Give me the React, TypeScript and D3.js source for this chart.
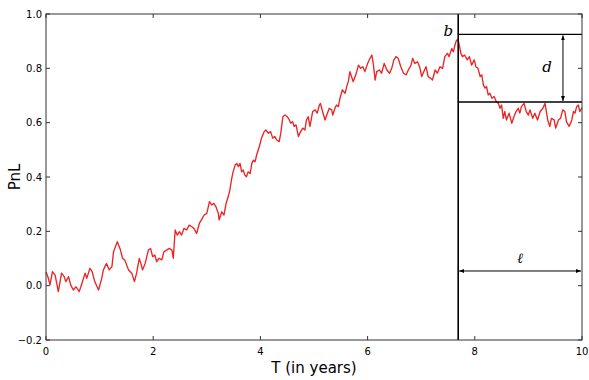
import React from 'react'
import * as d3 from 'd3'

// PnL path (time in years, PnL)
const times = [
  0, 0.04, 0.075, 0.12, 0.17, 0.23, 0.29, 0.34, 0.37, 0.42, 0.46, 0.51, 0.56, 0.62, 0.67, 0.73, 0.76, 0.82, 0.86, 0.91,
  0.98, 1.04, 1.07, 1.13, 1.18, 1.23, 1.26, 1.33, 1.38, 1.43, 1.47, 1.54, 1.6, 1.65, 1.69, 1.74, 1.77, 1.8, 1.85, 1.91,
  1.95, 1.99, 2.03, 2.065, 2.11, 2.16, 2.2, 2.25, 2.3, 2.35, 2.375, 2.41, 2.45, 2.49, 2.53, 2.575, 2.625, 2.67, 2.72, 2.76,
  2.81, 2.86, 2.9, 2.95, 3.0, 3.05, 3.09, 3.13, 3.17, 3.215, 3.23, 3.28, 3.32, 3.36, 3.4, 3.43, 3.46, 3.49, 3.53, 3.56,
  3.59, 3.62, 3.65, 3.68, 3.71, 3.74, 3.77, 3.81, 3.84, 3.87, 3.9, 3.93, 3.98, 4.02, 4.07, 4.1, 4.15, 4.19, 4.23, 4.27,
  4.3, 4.35, 4.38, 4.42, 4.46, 4.5, 4.54, 4.565, 4.6, 4.63, 4.665, 4.71, 4.75, 4.79, 4.83, 4.86, 4.89, 4.925, 4.975, 5.02,
  5.06, 5.1, 5.12, 5.16, 5.205, 5.25, 5.285, 5.33, 5.35, 5.39, 5.42, 5.455, 5.485, 5.53, 5.58, 5.61, 5.64, 5.67, 5.7, 5.73,
  5.78, 5.83, 5.87, 5.91, 5.95, 6.0, 6.03, 6.08, 6.11, 6.14, 6.17, 6.22, 6.26, 6.31, 6.36, 6.41, 6.45, 6.49, 6.53, 6.57,
  6.62, 6.67, 6.72, 6.76, 6.81, 6.84, 6.88, 6.93, 6.97, 7.01, 7.05, 7.09, 7.13, 7.17, 7.21, 7.26, 7.3, 7.35, 7.4, 7.44,
  7.49, 7.52, 7.57, 7.6, 7.63, 7.66, 7.69, 7.71, 7.74, 7.77, 7.81, 7.86, 7.9, 7.94, 7.99, 8.02, 8.06, 8.1, 8.13, 8.16,
  8.19, 8.22, 8.25, 8.28, 8.32, 8.36, 8.4, 8.44, 8.47, 8.5, 8.53, 8.56, 8.59, 8.64, 8.69, 8.73, 8.77, 8.81, 8.84, 8.87,
  8.92, 8.96, 9.0, 9.03, 9.08, 9.12, 9.17, 9.22, 9.27, 9.31, 9.36, 9.4, 9.43, 9.48, 9.51, 9.56, 9.6, 9.64, 9.68, 9.71,
  9.76, 9.81, 9.84, 9.87, 9.9, 9.93, 9.96, 10.0,
]
const pnl = [
  0.05, 0.03, 0.003, 0.052, 0.039, -0.022, 0.046, 0.033, 0.015, 0.033, 0.003, -0.016, -0.004, -0.022, 0.008, 0.046, 0.027, 0.064, 0.052, 0.015,
  -0.016, 0.027, 0.058, 0.082, 0.058, 0.07, 0.125, 0.162, 0.137, 0.1, 0.094, 0.058, 0.046, 0.015, 0.046, 0.1, 0.082, 0.058, 0.082, 0.131,
  0.137, 0.107, 0.113, 0.089, 0.101, 0.095, 0.125, 0.131, 0.137, 0.131, 0.101, 0.205, 0.186, 0.199, 0.186, 0.211, 0.205, 0.223, 0.217, 0.211,
  0.192, 0.229, 0.242, 0.26, 0.266, 0.309, 0.297, 0.303, 0.291, 0.266, 0.242, 0.272, 0.26, 0.303, 0.328, 0.352, 0.389, 0.419, 0.444, 0.45,
  0.438, 0.45, 0.419, 0.426, 0.407, 0.401, 0.419, 0.413, 0.45, 0.462, 0.456, 0.481, 0.512, 0.543, 0.567, 0.573, 0.561, 0.567, 0.543, 0.549,
  0.537, 0.53, 0.561, 0.622, 0.628, 0.622, 0.61, 0.598, 0.604, 0.586, 0.592, 0.549, 0.567, 0.58, 0.573, 0.61, 0.622, 0.586, 0.641, 0.647,
  0.635, 0.665, 0.671, 0.641, 0.61, 0.635, 0.653, 0.647, 0.628, 0.653, 0.665, 0.659, 0.69, 0.721, 0.708, 0.733, 0.751, 0.788, 0.77, 0.751,
  0.776, 0.812, 0.8, 0.806, 0.788, 0.818, 0.831, 0.849, 0.812, 0.757, 0.788, 0.794, 0.782, 0.818, 0.794, 0.782, 0.8, 0.831, 0.843, 0.837,
  0.806, 0.782, 0.776, 0.794, 0.812, 0.837, 0.818, 0.824, 0.806, 0.77, 0.788, 0.806, 0.77, 0.764, 0.757, 0.794, 0.782, 0.806, 0.8, 0.843,
  0.855, 0.843, 0.873, 0.861, 0.886, 0.904, 0.905, 0.886, 0.855, 0.843, 0.849, 0.831, 0.843, 0.812, 0.831, 0.806, 0.8, 0.77, 0.776, 0.739,
  0.727, 0.733, 0.702, 0.708, 0.69, 0.696, 0.678, 0.671, 0.653, 0.665, 0.616, 0.641, 0.61, 0.635, 0.598, 0.622, 0.641, 0.653, 0.635, 0.659,
  0.671, 0.641, 0.628, 0.647, 0.616, 0.635, 0.61, 0.641, 0.653, 0.671, 0.61, 0.586, 0.616, 0.61, 0.58, 0.61, 0.616, 0.647, 0.641, 0.604,
  0.586, 0.61, 0.641, 0.635, 0.659, 0.665, 0.641, 0.655,
]
const xTicks = [0, 2, 4, 6, 8, 10]
const yTicks = [-0.2, 0, 0.2, 0.4, 0.6, 0.8, 1.0]

// drawdown annotation
const peakTime = 7.69
const peakLevel = 0.925
const troughLevel = 0.676
const dArrowTime = 9.645
const ellLevel = 0.054

const width = 589
const height = 380
const margin = {top: 14, right: 7, bottom: 40, left: 46}

const App = () => {
  const x = d3.scaleLinear().domain([0, 10]).range([margin.left, width - margin.right])
  const y = d3.scaleLinear().domain([-0.2, 1.0]).range([height - margin.bottom, margin.top])
  const points = times.map((t, i) => [t, pnl[i]])
  const line = d3
    .line()
    .x(d => x(d[0]))
    .y(d => y(d[1]))
  const fmt = v => d3.format('.1f')(v).replace('-', '\u2212')
  const x0 = x(0), x1 = x(10), y0 = y(-0.2), y1 = y(1.0)
  const tickLen = 4
  return (
    <svg width={width} height={height} style={{position: 'absolute', left: 0, top: 0}}
      fontFamily="DejaVu Sans, sans-serif">
      <defs>
        <marker id="ah" viewBox="0 0 10 10" refX="10" refY="5" markerWidth="5" markerHeight="5"
          orient="auto-start-reverse">
          <path d="M0,1 L10,5 L0,9 z" fill="#000" />
        </marker>
      </defs>
      <path d={line(points)} fill="none" stroke="#ec2424" strokeWidth={1.35} strokeLinejoin="round" />

      {/* annotation lines */}
      <line x1={x(peakTime)} x2={x(peakTime)} y1={y1} y2={y0} stroke="#000" strokeWidth={1.6} />
      <line x1={x(peakTime)} x2={x1} y1={y(peakLevel)} y2={y(peakLevel)} stroke="#000" strokeWidth={1.4} />
      <line x1={x(peakTime)} x2={x1} y1={y(troughLevel)} y2={y(troughLevel)} stroke="#000" strokeWidth={1.4} />
      <line x1={x(dArrowTime)} x2={x(dArrowTime)} y1={y(peakLevel) + 1} y2={y(troughLevel) - 1}
        stroke="#000" strokeWidth={1} markerStart="url(#ah)" markerEnd="url(#ah)" />
      <line x1={x(peakTime) + 1} x2={x1 - 1} y1={y(ellLevel)} y2={y(ellLevel)}
        stroke="#000" strokeWidth={1} markerStart="url(#ah)" markerEnd="url(#ah)" />
      <text x={x(peakTime) - 5} y={y(peakLevel) + 2} textAnchor="end" fontFamily="DejaVu Serif, serif"
        fontStyle="italic" fontSize={15}>b</text>
      <text x={x(dArrowTime) - 16} y={y((peakLevel + troughLevel) / 2) + 4} textAnchor="middle"
        fontFamily="DejaVu Serif, serif" fontStyle="italic" fontSize={15}>d</text>
      <text x={(x(peakTime) + x1) / 2} y={y(ellLevel) - 8} textAnchor="middle"
        fontFamily="DejaVu Serif, serif" fontStyle="italic" fontSize={14}>{'\u2113'}</text>

      {/* frame */}
      <rect x={x0} y={y1} width={x1 - x0} height={y0 - y1} fill="none" stroke="#333" strokeWidth={1} />
      {xTicks.map(t => (
        <g key={'x' + t}>
          <line x1={x(t)} x2={x(t)} y1={y0} y2={y0 - tickLen} stroke="#333" />
          <line x1={x(t)} x2={x(t)} y1={y1} y2={y1 + tickLen} stroke="#333" />
          <text x={x(t)} y={y0 + 15} textAnchor="middle" fontSize={10}>{t}</text>
        </g>
      ))}
      {yTicks.map(v => (
        <g key={'y' + v}>
          <line x1={x0} x2={x0 + tickLen} y1={y(v)} y2={y(v)} stroke="#333" />
          <line x1={x1} x2={x1 - tickLen} y1={y(v)} y2={y(v)} stroke="#333" />
          <text x={x0 - 4} y={y(v) + 3.5} textAnchor="end" fontSize={10}>{fmt(v)}</text>
        </g>
      ))}
      <text x={(x0 + x1) / 2} y={373} textAnchor="middle" fontSize={15}>T (in years)</text>
      <text transform={`translate(20 ${(y0 + y1) / 2}) rotate(-90)`} textAnchor="middle" fontSize={15}>PnL</text>
    </svg>
  )
}

export default App
